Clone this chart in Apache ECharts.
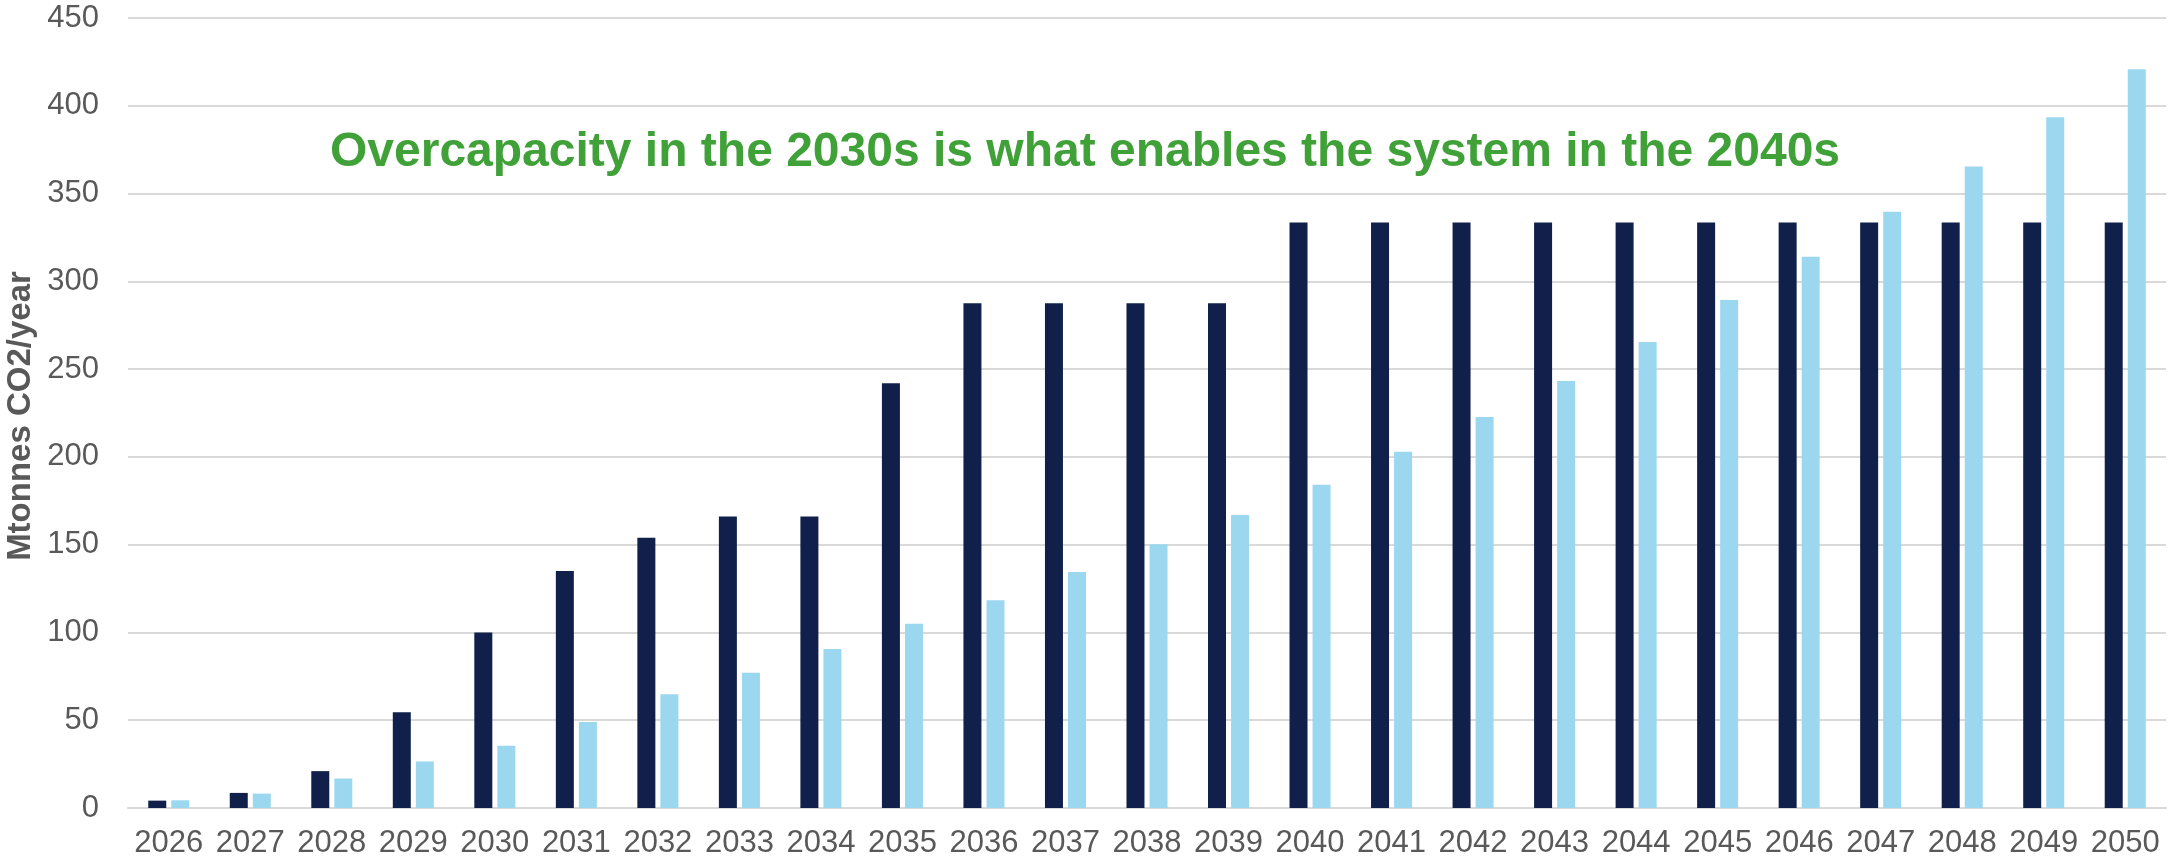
<!DOCTYPE html>
<html>
<head>
<meta charset="utf-8">
<title>Capacity vs demand</title>
<script src="https://cdn.jsdelivr.net/npm/echarts@6/dist/echarts.min.js"></script>
<style>
  html, body { margin: 0; padding: 0; background: #fff; }
  #chart { width: 2170px; height: 865px; }
</style>
</head>
<body>
<div id="chart"></div>
<script>
// years on the x axis
var years = ['2026', '2027', '2028', '2029', '2030', '2031', '2032', '2033', '2034', '2035',
  '2036', '2037', '2038', '2039', '2040', '2041', '2042', '2043', '2044', '2045',
  '2046', '2047', '2048', '2049', '2050'];

// dark bars (capacity)
var capacity = [4.2, 8.6, 21, 54.5, 100, 135, 154, 166, 166, 242,
  287.5, 287.5, 287.5, 287.5, 333.5, 333.5, 333.5, 333.5, 333.5, 333.5,
  333.5, 333.5, 333.5, 333.5, 333.5];

// light bars
var demand = [4.4, 8.2, 16.8, 26.5, 35.4, 49, 64.8, 77.1, 90.6, 104.9,
  118.3, 134.4, 150.2, 166.9, 184.1, 202.9, 222.7, 243.2, 265.4, 289.3,
  314, 339.6, 365.4, 393.4, 420.8];

var yTicks = { min: 0, max: 450, step: 50 };

var font = "'Liberation Sans', Arial, sans-serif";
var grey = '#595959';

var myChart = echarts.init(document.getElementById('chart'));

var option = {
  animation: false,
  grid: { left: 128, right: 4, top: 18, bottom: 57 },
  graphic: {
    elements: [{
      type: 'text',
      left: 'center',
      top: 129,
      style: {
        text: 'Overcapacity in the 2030s is what enables the system in the 2040s',
        fill: '#41a139',
        font: 'bold 48px ' + font
      }
    }, {
      // y axis title, rotated
      type: 'text',
      x: 21,
      y: 416,
      rotation: Math.PI / 2,
      style: {
        text: 'Mtonnes CO2/year',
        fill: grey,
        font: 'bold 33px ' + font,
        align: 'center',
        verticalAlign: 'middle'
      }
    }]
  },
  xAxis: {
    type: 'category',
    data: years,
    axisLine: { show: true, lineStyle: { color: '#d9d9d9', width: 2 } },
    axisTick: { show: false },
    axisLabel: { color: grey, fontSize: 31, fontFamily: font, margin: 20, interval: 0 }
  },
  yAxis: {
    type: 'value',
    min: yTicks.min,
    max: yTicks.max,
    interval: yTicks.step,
    axisLine: { show: false },
    axisTick: { show: false },
    axisLabel: { color: grey, fontSize: 31, fontFamily: font, margin: 29 },
    splitLine: { lineStyle: { color: '#d9d9d9', width: 2 } }
  },
  series: [{
    name: 'Capacity',
    type: 'bar',
    data: capacity,
    barWidth: 18,
    barGap: '28%',
    itemStyle: { color: '#10204b' }
  }, {
    name: 'Demand',
    type: 'bar',
    data: demand,
    barWidth: 18,
    itemStyle: { color: '#9bd8f0' }
  }]
};

myChart.setOption(option, true);
</script>
</body>
</html>
